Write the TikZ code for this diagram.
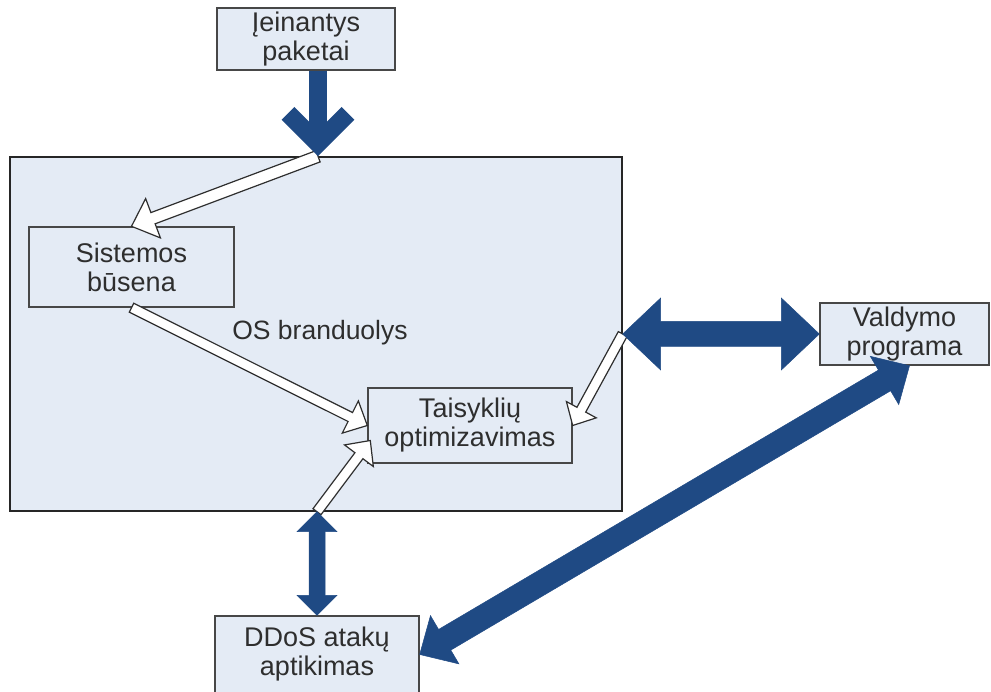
\documentclass[tikz,border=0pt]{standalone}
\usepackage{fontspec}
\setmainfont{Liberation Sans}
\usetikzlibrary{calc}

\definecolor{arrowblue}{HTML}{1F4A84}
\definecolor{panel}{HTML}{E4EBF5}
\definecolor{edge}{HTML}{474747}
\definecolor{ink}{HTML}{2E2E2E}

% Block arrow with one head: style, from, to, half shaft, head length, half head width
\newcommand\oneheadarrow[6]{%
  \coordinate (hb) at ($(#3)!#5!(#2)$);
  \path[#1] ($(#2)!#4!90:(#3)$) -- ($(hb)!#4!90:(#3)$) -- ($(hb)!#6!90:(#3)$)
    -- (#3) -- ($(hb)!#6!-90:(#3)$) -- ($(hb)!#4!-90:(#3)$)
    -- ($(#2)!#4!-90:(#3)$) -- cycle;}

% Block arrow with a head at both ends
\newcommand\twoheadarrow[6]{%
  \coordinate (ha) at ($(#2)!#5!(#3)$);
  \coordinate (hb) at ($(#3)!#5!(#2)$);
  \path[#1] (#2) -- ($(ha)!#6!90:(#3)$) -- ($(ha)!#4!90:(#3)$)
    -- ($(hb)!#4!90:(#3)$) -- ($(hb)!#6!90:(#3)$) -- (#3)
    -- ($(hb)!#6!-90:(#3)$) -- ($(hb)!#4!-90:(#3)$)
    -- ($(ha)!#4!-90:(#3)$) -- ($(ha)!#6!-90:(#3)$) -- cycle;}

\begin{document}
\begin{tikzpicture}[x=1pt,y=-1pt,
  box/.style={draw=edge, line width=1.4pt, fill=panel, text=ink, inner sep=0pt,
    align=center, font=\fontsize{27}{29}\selectfont},
  kernelbox/.style={draw=black!85, line width=1.4pt, fill=panel, inner sep=0pt},
  label/.style={text=ink, font=\fontsize{26.5}{29}\selectfont},
  hollow/.style={fill=white, draw=ink, line width=1.2pt, line join=miter},
  solidarrow/.style={fill=arrowblue, draw=arrowblue, line width=0.5pt, line join=miter},
  barb/.style={draw=arrowblue, line width=18pt}]

\useasboundingbox (0,0) rectangle (991,692);

% kernel area and the blocks
\node[kernelbox, minimum width=612pt, minimum height=354pt] (os) at (316,334) {};
\node[label] (oslabel) at (320,333) {OS branduolys};

\node[box, minimum width=178pt, minimum height=62pt] (in) at (306,39) {Įeinantys\\paketai};
\node[box, minimum width=205pt, minimum height=80pt] (sys) at (131.5,267) {Sistemos\\būsena};
\node[box, minimum width=204pt, minimum height=75pt] (opt) at (470,425.5) {Taisyklių\\optimizavimas};
\node[box, minimum width=169pt, minimum height=62pt] (ctl) at (904.5,334) {Valdymo\\programa};
\node[box, minimum width=204pt, minimum height=77pt] (ddos) at (317,654.5) {DDoS atakų\\aptikimas};

% connection points on the kernel border
\coordinate (feed) at ($(os.north)+(2,0)$);
\coordinate (ddtop) at ($(os.south)+(1,0)$);
\coordinate (optlow) at ($(opt.west)+(3,15)$);
\coordinate (ctlin) at ($(ctl.south)+(5,0)$);

% internal data flow
\oneheadarrow{hollow}{feed}{sys.north}{6pt}{23pt}{21pt}
\oneheadarrow{hollow}{sys.south}{opt.west}{5pt}{19pt}{18pt}
\oneheadarrow{hollow}{os.east}{opt.east}{5pt}{18pt}{17pt}
\oneheadarrow{hollow}{ddtop}{optlow}{5pt}{19pt}{18pt}

% external links
\twoheadarrow{solidarrow}{os.east}{ctl.west}{12.5pt}{38pt}{36pt}
\twoheadarrow{solidarrow}{ddtop}{ddos.north}{8pt}{20pt}{20pt}
\twoheadarrow{solidarrow}{ddos.east}{ctlin}{12pt}{29pt}{28pt}

% incoming packets
\draw[barb] ($(in.south)+(12,0)$) -- ($(feed)+(0,-13)$);
\draw[barb, line join=miter] ($(feed)+(-30,-43)$) -- ($(feed)+(0,-13)$) -- ($(feed)+(30,-43)$);
\end{tikzpicture}
\end{document}
